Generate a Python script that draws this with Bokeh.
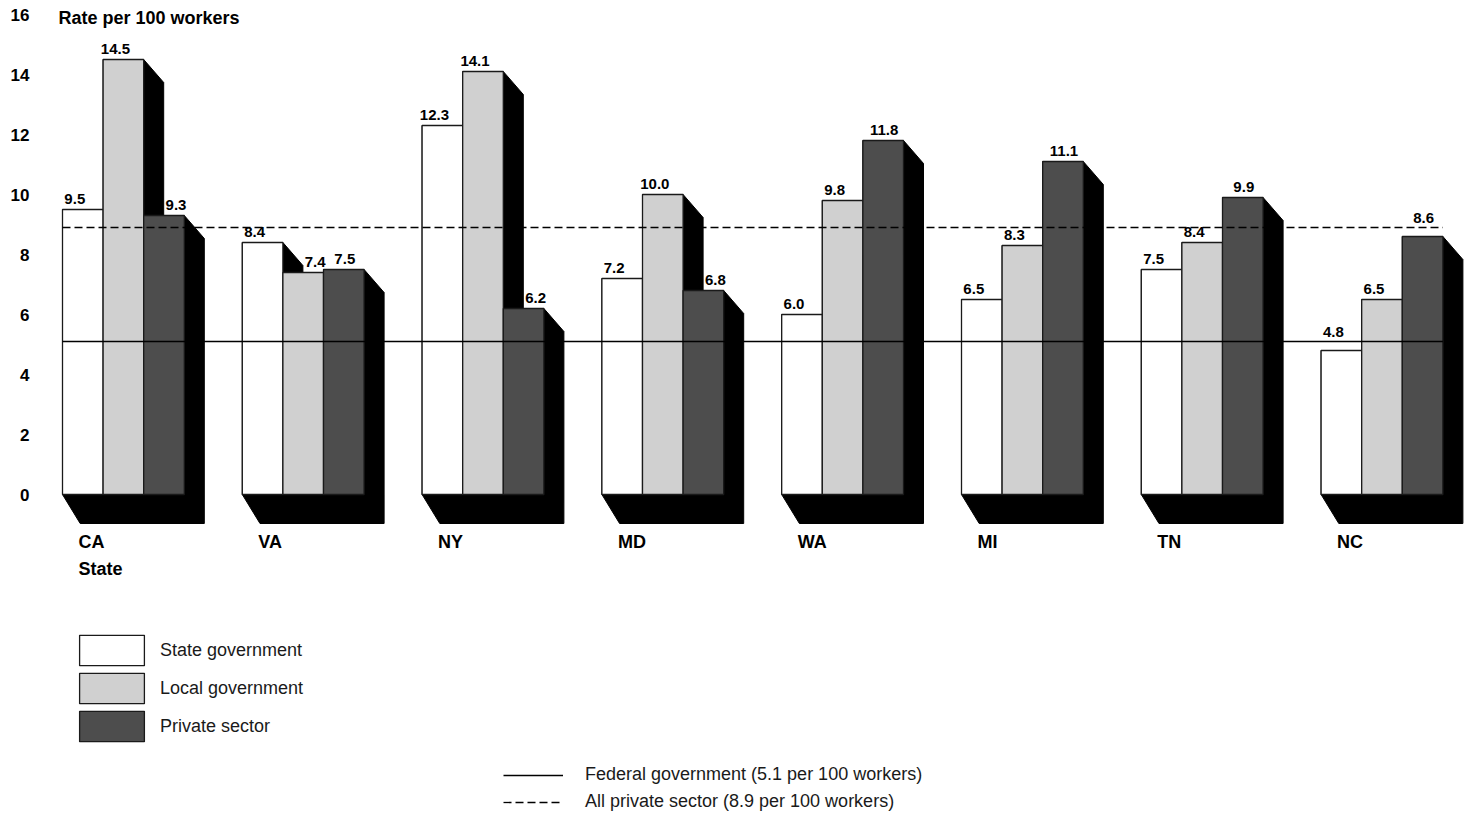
from bokeh.plotting import figure
from bokeh.models import ColumnDataSource, Range1d, FixedTicker, Legend, LegendItem
from bokeh.core.properties import value
from bokeh.embed import file_html
from bokeh.resources import INLINE

# Nonfatal injury and illness rates by state and ownership
states = ["CA", "VA", "NY", "MD", "WA", "MI", "TN", "NC"]
state_gov = [9.5, 8.4, 12.3, 7.2, 6.0, 6.5, 7.5, 4.8]
local_gov = [14.5, 7.4, 14.1, 10.0, 9.8, 8.3, 8.4, 6.5]
private_sector = [9.3, 7.5, 6.2, 6.8, 11.8, 11.1, 9.9, 8.6]
federal_rate = 5.1
all_private_rate = 8.9
y_ticks = [0, 2, 4, 6, 8, 10, 12, 14, 16]

series_names = ["State government", "Local government", "Private sector"]
series_values = [state_gov, local_gov, private_sector]
series_fill = ["#ffffff", "#d0d0d0", "#4d4d4d"]

FONT = "Liberation Sans"
W, H = 1468, 821
LEFT = 40                 # space for the value axis
PX_X = 1 / 179.8          # data units per pixel (one state group = 1 unit)
PX_Y = 1 / 30.0
BASE_PX = 494             # screen row of the zero line

bar_w = 40.6 * PX_X
group_c0 = 122.9          # screen column of the first group centre

x_start = (LEFT - group_c0) * PX_X
x_end = (W - group_c0) * PX_X
y_end = BASE_PX * PX_Y
y_start = -(H - BASE_PX) * PX_Y

p = figure(width=W, height=H, output_backend="svg", toolbar_location=None,
           x_range=Range1d(x_start, x_end), y_range=Range1d(y_start, y_end),
           x_axis_location=None, y_axis_location="left",
           min_border_left=LEFT, min_border_right=0, min_border_top=0, min_border_bottom=0)
p.outline_line_color = None
p.xgrid.visible = False
p.ygrid.visible = False
p.background_fill_color = "white"
p.border_fill_color = "white"

ax = p.yaxis[0]
ax.ticker = FixedTicker(ticks=y_ticks)
ax.axis_line_color = None
ax.major_tick_line_color = None
ax.minor_tick_line_color = None
ax.major_tick_out = 0
ax.major_tick_in = 0
ax.major_label_standoff = 11
ax.major_label_text_font = FONT
ax.major_label_text_font_style = "bold"
ax.major_label_text_font_size = "17px"
ax.major_label_text_color = "#000000"

# 3-D drop shadows (offset down and to the right)
sh_dx = 20 * PX_X
sh_dy = 23 * PX_Y
sh_bx = 17.7 * PX_X
sh_by = 29 * PX_Y
xs, ys = [], []
for k, vals in enumerate(series_values):
    for i, v in enumerate(vals):
        xl = i + (k - 1.5) * bar_w
        xr = xl + bar_w
        xs.append([xl, xr, xr + sh_dx, xr + sh_dx, xl + sh_bx, xl])
        ys.append([v, v, v - sh_dy, -sh_by, -sh_by, 0])
p.patches(xs=xs, ys=ys, fill_color="black", line_color="black", line_width=1)

ref_levels = [federal_rate, all_private_rate]
LABEL_CLEAR = 13.5 * PX_Y   # label height band above a bar top

# bars
bar_renderers = []
label_sources = []
for k, (name, vals, color) in enumerate(zip(series_names, series_values, series_fill)):
    lefts = [i + (k - 1.5) * bar_w for i in range(len(states))]
    # value labels sit a little left of centre; where the neighbouring
    # bar's shadow falls on the label, push it clear to the right
    nudges, label_y, label_dy = [], [], []
    for i, v in enumerate(vals):
        if k > 0 and series_values[k - 1][i] > v:
            nudges.append(12)
        else:
            nudges.append(1 if k == 2 else -8)
        # lift a label above a reference line that would strike through it
        hit = [lv for lv in ref_levels if 0 < lv - v < LABEL_CLEAR]
        if hit:
            label_y.append(hit[0])
            label_dy.append(-10)
        else:
            label_y.append(v)
            label_dy.append(-11)
    src = ColumnDataSource(dict(left=lefts, right=[l + bar_w for l in lefts],
                                top=vals, bottom=[0] * len(vals),
                                cx=[l + bar_w / 2 for l in lefts],
                                nudge=nudges, label_y=label_y, label_dy=label_dy,
                                label=[f"{v:.1f}" for v in vals]))
    r = p.quad(left="left", right="right", top="top", bottom="bottom", source=src,
               fill_color=color, line_color="#1a1a1a", line_width=1.3)
    bar_renderers.append(r)
    label_sources.append(src)

# reference lines
x0 = -1.5 * bar_w
x1 = (len(states) - 1) + 1.5 * bar_w
fed_r = p.line(x=[x0, x1], y=[federal_rate, federal_rate], line_color="black", line_width=1.3)
all_r = p.line(x=[x0, x1], y=[all_private_rate, all_private_rate], line_color="black",
               line_width=1.3, line_dash="8 4")

# value labels above the bars
for src in label_sources:
    p.text(x="cx", y="label_y", text="label", source=src, x_offset="nudge", y_offset="label_dy",
           text_align="center", text_baseline="alphabetic",
           text_font=value(FONT), text_font_style="bold", text_font_size="15px",
           text_color="#000000")

# state labels
cat_src = ColumnDataSource(dict(x=[i - 1.5 * bar_w for i in range(len(states))],
                                y=[0] * len(states), text=states))
p.text(x="x", y="y", text="text", source=cat_src, x_offset=16, y_offset=47,
       text_align="left", text_baseline="alphabetic",
       text_font=value(FONT), text_font_style="bold", text_font_size="18px",
       text_color="#000000")
p.text(x=[-1.5 * bar_w], y=[0], text=["State"], x_offset=16, y_offset=74,
       text_align="left", text_baseline="alphabetic",
       text_font=value(FONT), text_font_style="bold", text_font_size="18px",
       text_color="#000000")

# value-axis title
p.text(x=[-1.5 * bar_w], y=[y_ticks[-1]], text=["Rate per 100 workers"], x_offset=-4, y_offset=3,
       text_align="left", text_baseline="alphabetic",
       text_font=value(FONT), text_font_style="bold", text_font_size="18px",
       text_color="#000000")

legend_common = dict(padding=0, margin=0, border_line_color=None, background_fill_alpha=0,
                     label_text_font=FONT, label_text_font_size="18px",
                     label_text_color="#1a1a1a")

bar_legend = Legend(items=[LegendItem(label=n, renderers=[r])
                           for n, r in zip(series_names, bar_renderers)],
                    location=(31, 76), glyph_width=81, glyph_height=38, spacing=0,
                    label_standoff=8, **legend_common)
p.add_layout(bar_legend)

line_legend = Legend(items=[LegendItem(label=f"Federal government ({federal_rate} per 100 workers)",
                                       renderers=[fed_r]),
                            LegendItem(label=f"All private sector ({all_private_rate} per 100 workers)",
                                       renderers=[all_r])],
                     location=(463, 9), glyph_width=60, glyph_height=20, spacing=6,
                     label_standoff=22, **legend_common)
p.add_layout(line_legend)

open("out.html", "w").write(file_html(p, INLINE))
